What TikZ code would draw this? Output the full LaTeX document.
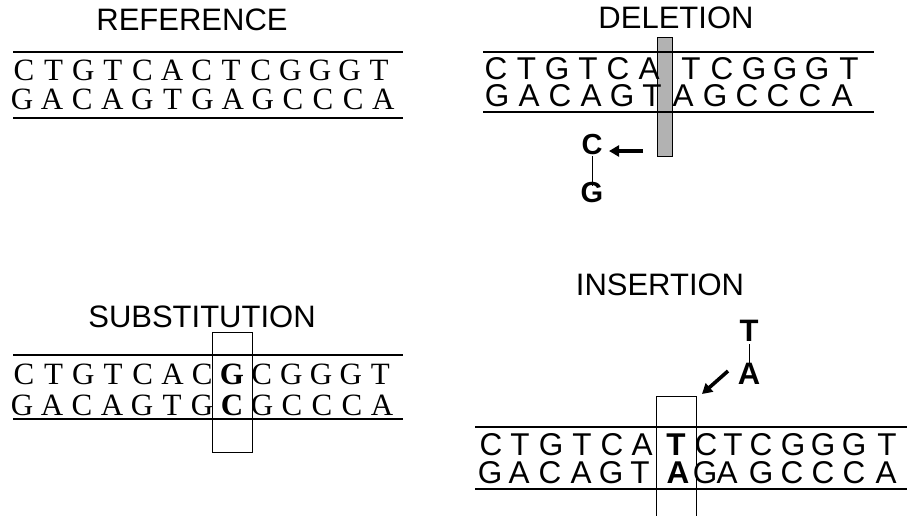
\documentclass[tikz,border=0pt]{standalone}
\usepackage{fontspec}
\setmainfont{Liberation Serif}
\setsansfont{Liberation Sans}
\usetikzlibrary{arrows.meta}
\begin{document}
\begin{tikzpicture}[x=1pt,y=-1pt,
  title/.style={font=\sffamily\fontsize{31}{31}\selectfont, anchor=base, inner sep=0pt},
  rowtxt/.style={anchor=base, inner sep=0pt, text height=0.68em, text depth=0pt},
  ser/.style={rowtxt, font=\rmfamily\fontsize{31}{31}\selectfont},
  sers/.style={rowtxt, font=\rmfamily\fontsize{31}{31}\selectfont},
  sans/.style={rowtxt, font=\sffamily\fontsize{31.5}{31.5}\selectfont},
  bsans/.style={font=\sffamily\bfseries\fontsize{31}{31}\selectfont, anchor=base, inner sep=0pt},
  bsanss/.style={font=\sffamily\bfseries\fontsize{29}{29}\selectfont, anchor=base, inner sep=0pt},
  strand/.style={line width=2.6pt},
  thinbox/.style={line width=0.8pt},
  fatarrow/.style={line width=3.6pt, -{Triangle[length=10pt,width=11pt]}}]
\useasboundingbox (0,0) rectangle (907,515);

% ---------- REFERENCE ----------
\node[title] (tref) at (192,30) {REFERENCE};
\coordinate (refL1) at (13,52); \coordinate (refR1) at (403,52);
\coordinate (refL2) at (13,118); \coordinate (refR2) at (403,118);
\draw[strand] (refL1) -- (refR1);
\draw[strand] (refL2) -- (refR2);
\foreach \c [count=\i] in {C,T,G,T,C,A,C,T,C,G,G,G,T}
  \node[ser] (ra\i) at ({24+29.6*(\i-1)},80) {\c};
\foreach \c [count=\i] in {G,A,C,A,G,T,G,A,G,C,C,C,A}
  \node[ser] (rb\i) at ({22+30.1*(\i-1)},109) {\c};

% ---------- DELETION ----------
\node[title] (tdel) at (676,28) {DELETION};
\node[draw=black, line width=0.8pt, fill=black!30, minimum width=15pt, minimum height=119pt, inner sep=0pt, anchor=north west] (gbar) at (657,37) {};
\coordinate (delL1) at (483,52); \coordinate (delR1) at (874,52);
\coordinate (delL2) at (483,112); \coordinate (delR2) at (874,112);
\draw[strand] (delL1) -- (delR1);
\draw[strand] (delL2) -- (delR2);
\foreach \x/\c [count=\i] in {496/C,526.5/T,557/G,588/T,618/C,649/A,691/T,722/C,754/G,785/G,817/G,849/T}
  \node[sans] (da\i) at (\x,79) {\c};
\foreach \x/\c [count=\i] in {497/G,529/A,560/C,591/A,622/G,652/T,683/A,715/G,747/C,778/C,810/C,842/A}
  \node[sans] (db\i) at (\x,106) {\c};
\node[bsanss] (dc) at (592,154) {C};
\node[bsanss] (dg) at (592,202) {G};
\draw[line width=0.6pt] (dc.south) ++(0,2) -- ([yshift=-4pt]dg.north);
\coordinate (darrS) at (643,151);
\coordinate (darrE) at (609,151);
\draw[fatarrow] (darrS) -- (darrE);

% ---------- SUBSTITUTION ----------
\node[title] (tsub) at (202,327) {SUBSTITUTION};
\node[draw=black, thinbox, minimum width=40pt, minimum height=120pt, inner sep=0pt, anchor=north west] (sbox) at (212,332) {};
\coordinate (subL1) at (13,355); \coordinate (subR1) at (403,355);
\coordinate (subL2) at (13,419); \coordinate (subR2) at (403,419);
\draw[strand] (subL1) -- (subR1);
\draw[strand] (subL2) -- (subR2);
\foreach \c [count=\i] in {C,T,G,T,C,A,C,{\textbf{G}},C,G,G,G,T}
  \node[sers] (sa\i) at ({24+29.7*(\i-1)},384) {\c};
\foreach \c [count=\i] in {G,A,C,A,G,T,G,{\textbf{C}},G,C,C,C,A}
  \node[sers] (sb\i) at ({22+30*(\i-1)},415) {\c};

% ---------- INSERTION ----------
\node[title] (tins) at (660,295) {INSERTION};
\node[bsans] (it) at (749,341) {T};
\node[bsans] (ia) at (749,384) {A};
\draw[line width=0.6pt] ([yshift=-3pt]it.base) -- ([yshift=-3pt]ia.north);
\coordinate (iarrS) at (728,371);
\coordinate (iarrE) at (702,394);
\draw[fatarrow] (iarrS) -- (iarrE);
\draw[thinbox] (656,520) -- (656,396) -- (696,396) -- (696,520);
\coordinate (insL1) at (475,427); \coordinate (insR1) at (907,427);
\coordinate (insL2) at (475,489); \coordinate (insR2) at (907,489);
\draw[strand] (insL1) -- (insR1);
\draw[strand] (insL2) -- (insR2);
\foreach \x/\c [count=\i] in {491/C,520/T,551/G,582/T,612/C,642/A,676/{\textbf{T}},706/C,733/T,761/C,793/G,823/G,854/G,887/T}
  \node[sans] (ib\i) at (\x,455) {\c};
\foreach \x/\c [count=\i] in {490/G,519/A,550/C,581/A,611/G,640/T,678/{\textbf{A}},705/G,727/A,761/G,792/C,823/C,854/C,886/A}
  \node[sans] (ic\i) at (\x,483) {\c};
\end{tikzpicture}
\end{document}
